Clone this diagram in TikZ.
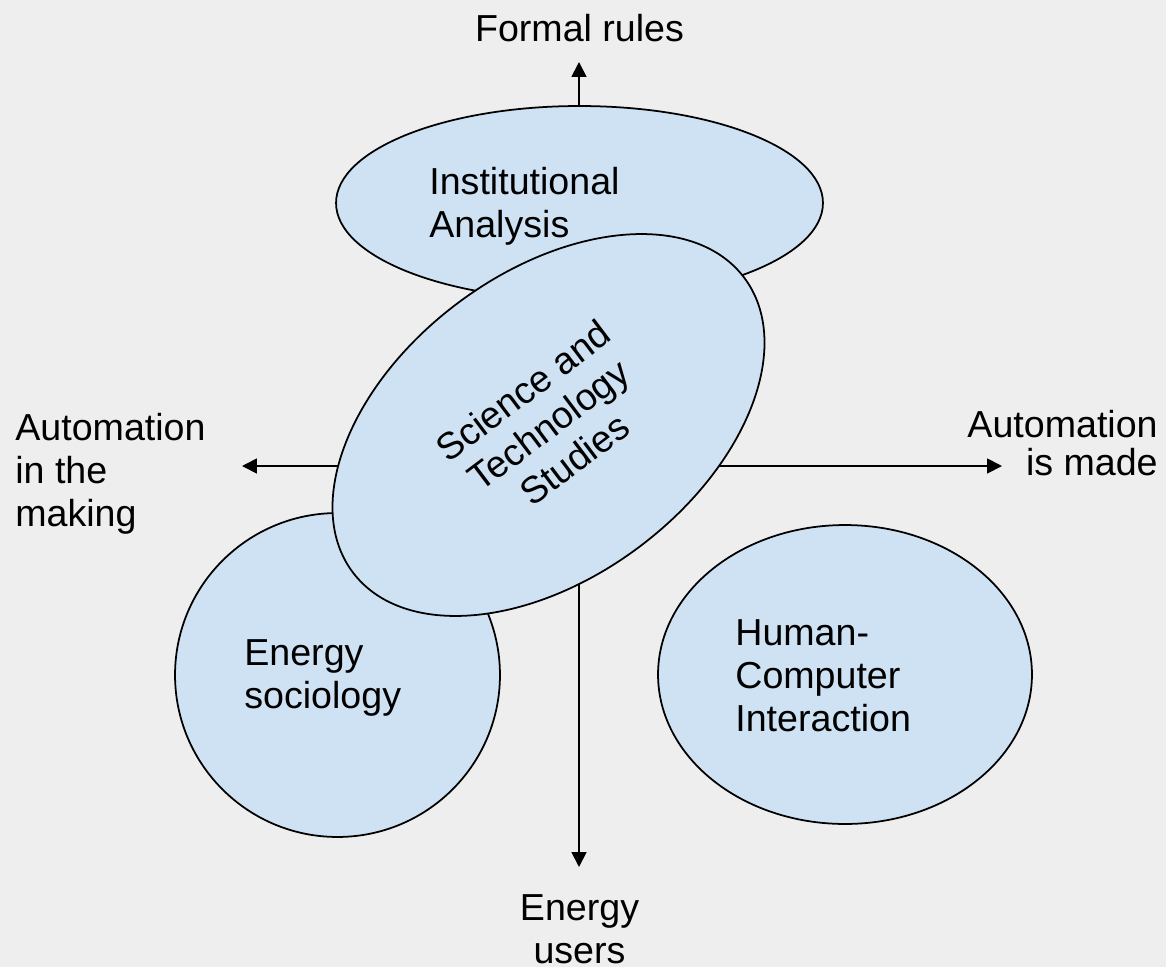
\documentclass[tikz,border=0pt]{standalone}
\usepackage{fontspec}
\setmainfont{Liberation Sans}
\usetikzlibrary{shapes.geometric,arrows.meta}
\definecolor{bgc}{HTML}{EEEEEE}
\definecolor{blobc}{HTML}{CFE2F3}
\begin{document}
\begin{tikzpicture}[x=0.02cm,y=-0.02cm,
  blob/.style={ellipse,draw=black,line width=1pt,fill=blobc,inner sep=0pt},
  lbl/.style={inner sep=0pt,font=\fontsize{21.4}{24.3}\selectfont},
  tip/.tip={Triangle[width=8.5pt,length=8.5pt]},
  axis/.style={line width=1pt,tip-tip}]
\fill[bgc] (0,0) rectangle (1166,967);
\useasboundingbox (0,0) rectangle (1166,967);
% axes
\coordinate (ytop) at (579,62);
\coordinate (ybot) at (579,867);
\coordinate (xleft) at (242,466);
\coordinate (xright) at (1002,466);
\draw[axis] (ybot) -- (ytop);
\draw[axis] (xleft) -- (xright);
% ellipses
\node[blob,minimum width=9.74cm,minimum height=3.88cm] (inst) at (579.5,203) {};
\node[blob,minimum width=6.5cm,minimum height=6.48cm] (soc) at (337.5,675) {};
\node[blob,minimum width=7.48cm,minimum height=5.98cm] (hci) at (845,674.5) {};
\node[blob,minimum width=9.8cm,minimum height=6.08cm,rotate=37] (sts) at (548.5,425) {};
% texts (base anchor = baseline of the last line)
\node[lbl,anchor=base west,align=left] (insttext) at (429,237) {Institutional\\Analysis};
\node[lbl,anchor=base west,align=left] (soctext) at (244,708) {Energy\\sociology};
\node[lbl,anchor=base west,align=left] (hcitext) at (735,731) {Human-\\Computer\\Interaction};
\node[lbl,align=center,rotate=37] (ststext) at (sts.center) {Science and\\Technology\\Studies};
\node[lbl,anchor=base] (formal) at (579.5,41) {Formal rules};
\node[lbl,anchor=base west,align=left] (leftlab) at (15,526) {Automation\\in the\\making};
\node[lbl,anchor=base east,align=right,font=\fontsize{21.4}{21.5}\selectfont] (rightlab) at (1158,475) {Automation\\is made};
\node[lbl,anchor=base,align=center] (users) at (579.5,963) {Energy\\users};
\end{tikzpicture}
\end{document}
